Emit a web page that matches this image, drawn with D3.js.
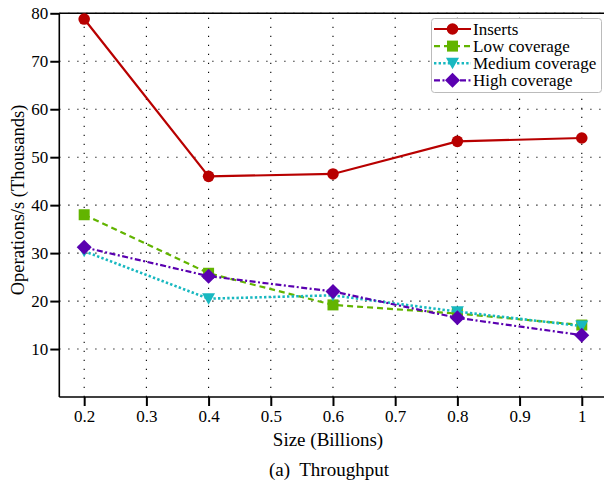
<!DOCTYPE html>
<html><head><meta charset="utf-8">
<script src="https://cdn.jsdelivr.net/npm/d3@7"></script>
<style>body{margin:0;background:#fff}svg{display:block}text{font-family:"Liberation Serif","Times New Roman",serif;fill:#000}</style>
</head><body><svg id="c" width="604" height="488"></svg>
<script>
const sizes = [0.2, 0.4, 0.6, 0.8, 1.0];
const inserts = [78.8, 46.0, 46.5, 53.3, 54.0];
const lowCoverage = [38.0, 25.8, 19.2, 17.4, 15.0];
const mediumCoverage = [30.4, 20.5, 21.2, 17.8, 14.8];
const highCoverage = [31.2, 25.2, 22.0, 16.5, 12.9];
const seriesNames = ["Inserts", "Low coverage", "Medium coverage", "High coverage"];
const xTicks = [0.2, 0.3, 0.4, 0.5, 0.6, 0.7, 0.8, 0.9, 1.0];
const yTicks = [10, 20, 30, 40, 50, 60, 70, 80];

const series = [
  {name: seriesNames[0], values: inserts, color: "#b80000", dash: null, width: 2.2, marker: "circle"},
  {name: seriesNames[1], values: lowCoverage, color: "#62b400", dash: "6,4", width: 2.2, marker: "square"},
  {name: seriesNames[2], values: mediumCoverage, color: "#18b8c0", dash: "2.4,2.2", width: 2.6, marker: "triangle"},
  {name: seriesNames[3], values: highCoverage, color: "#5a00b0", dash: "6,2.5,2,2.5", width: 2.2, marker: "diamond"}
];

const svg = d3.select("#c");
const L = 59.3, T = 13.3, B = 397;
const x = d3.scaleLinear().domain([0.16, 1.04]).range([L, L + 0.88 * 622]);
const y = d3.scaleLinear().domain([0, 80]).range([B, T]);

// grid
const g = svg.append("g");
g.selectAll(".gx").data(xTicks).join("line")
  .attr("x1", d => x(d)).attr("x2", d => x(d)).attr("y1", B).attr("y2", T)
  .attr("stroke", "#000").attr("stroke-width", 1.1).attr("stroke-dasharray", "1.2,7.8");
g.selectAll(".gy").data(yTicks).join("line")
  .attr("y1", d => y(d)).attr("y2", d => y(d)).attr("x1", L).attr("x2", 604)
  .attr("stroke", "#000").attr("stroke-width", 1.1).attr("stroke-dasharray", "1.2,7.8");

// axes
const fmt = d => d === 1 ? "1" : String(d);
const xAxis = svg.append("g").attr("transform", `translate(0,${B})`)
  .call(d3.axisBottom(x).tickValues(xTicks).tickFormat(fmt).tickSize(9).tickPadding(4));
const yAxis = svg.append("g").attr("transform", `translate(${L},0)`)
  .call(d3.axisLeft(y).tickValues(yTicks).tickSize(9).tickPadding(2));
[xAxis, yAxis].forEach(a => {
  a.select(".domain").attr("stroke", "#000").attr("stroke-width", 1.6);
  a.selectAll(".tick line").attr("stroke", "#000").attr("stroke-width", 2);
  a.selectAll(".tick text").attr("font-family", "Liberation Serif").attr("font-size", 17).attr("fill", "#000");
});
yAxis.select(".domain").attr("d", `M0,${B}V${T}`);
xAxis.select(".domain").attr("d", `M${L},0H604`);
svg.append("line").attr("x1", L).attr("x2", 604).attr("y1", T).attr("y2", T).attr("stroke", "#000").attr("stroke-width", 1.6);

// markers
function drawMarker(sel, type, color, cx, cy) {
  if (type === "circle") sel.append("circle").attr("cx", cx).attr("cy", cy).attr("r", 5.8).attr("fill", color);
  else if (type === "square") sel.append("rect").attr("x", cx - 5.5).attr("y", cy - 5.5).attr("width", 11).attr("height", 11).attr("fill", color);
  else if (type === "triangle") sel.append("path").attr("d", `M${cx-6.5},${cy-5.5}L${cx+6.5},${cy-5.5}L${cx},${cy+6}Z`).attr("fill", color);
  else if (type === "diamond") sel.append("path").attr("d", `M${cx},${cy-7.5}L${cx+7.5},${cy}L${cx},${cy+7.5}L${cx-7.5},${cy}Z`).attr("fill", color);
}

const line = d3.line().x((d, i) => x(sizes[i])).y(d => y(d));
series.forEach(s => {
  const sg = svg.append("g");
  sg.append("path").attr("d", line(s.values)).attr("fill", "none").attr("stroke", s.color)
    .attr("stroke-width", s.width).attr("stroke-dasharray", s.dash);
  s.values.forEach((v, i) => drawMarker(sg, s.marker, s.color, x(sizes[i]), y(v)));
});

// legend
const lg = svg.append("g");
lg.append("rect").attr("x", 431.5).attr("y", 18.5).attr("width", 170).attr("height", 74).attr("rx", 3)
  .attr("fill", "#fff").attr("stroke", "#bbb").attr("stroke-width", 1);
series.forEach((s, i) => {
  const ly = 29 + i * 17.1;
  lg.append("line").attr("x1", 434).attr("x2", 471).attr("y1", ly).attr("y2", ly)
    .attr("stroke", s.color).attr("stroke-width", s.width).attr("stroke-dasharray", s.dash);
  drawMarker(lg, s.marker, s.color, 452.5, ly);
  lg.append("text").attr("x", 473).attr("y", ly + 5.5).attr("font-size", 17).text(s.name);
});

// labels
svg.append("text").attr("transform", `translate(24,200) rotate(-90)`).attr("text-anchor", "middle")
  .attr("font-size", 18.5).text("Operations/s (Thousands)");
svg.append("text").attr("x", 328).attr("y", 446).attr("text-anchor", "middle").attr("font-size", 19).text("Size (Billions)");
svg.append("text").attr("x", 329).attr("y", 476).attr("text-anchor", "middle").attr("font-size", 19).attr("xml:space", "preserve").text("(a)  Throughput");
</script></body></html>
